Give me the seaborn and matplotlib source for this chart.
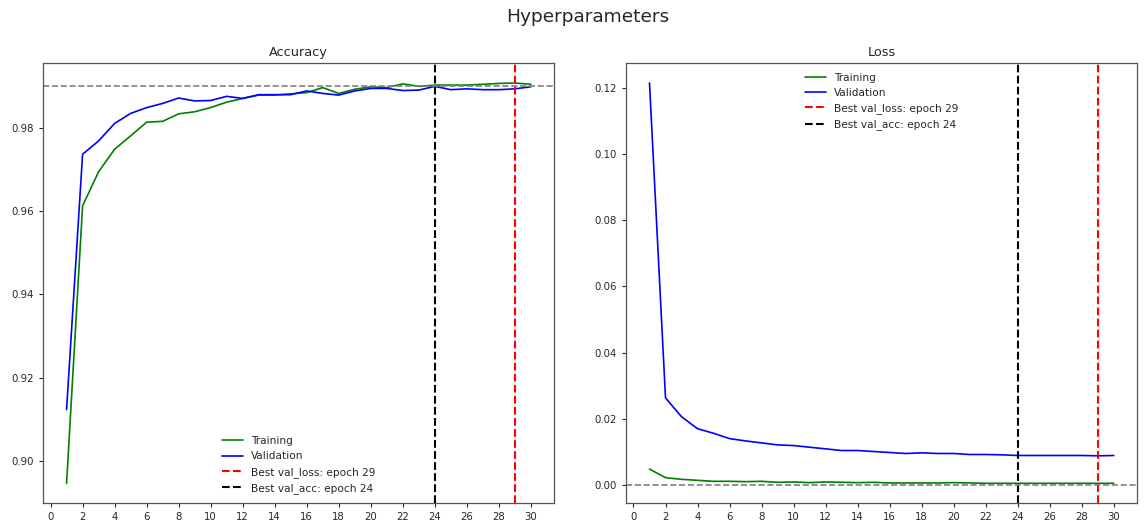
import matplotlib
matplotlib.use("Agg")
import matplotlib.pyplot as plt
import seaborn as sns
import pandas as pd

epochs = [1, 2, 3, 4, 5, 6, 7, 8, 9, 10, 11, 12, 13, 14, 15,
          16, 17, 18, 19, 20, 21, 22, 23, 24, 25, 26, 27, 28, 29, 30]

train_acc = [0.8946, 0.9612, 0.9694, 0.9748, 0.9780, 0.9813, 0.9815, 0.9833, 0.9838, 0.9848,
             0.9861, 0.9870, 0.9878, 0.9878, 0.9881, 0.9884, 0.9896, 0.9882, 0.9892, 0.9898,
             0.9896, 0.9905, 0.9899, 0.9902, 0.9902, 0.9902, 0.9904, 0.9906, 0.9907, 0.9904]
val_acc = [0.9123, 0.9736, 0.9768, 0.9810, 0.9834, 0.9848, 0.9858, 0.9871, 0.9864, 0.9865,
           0.9875, 0.9870, 0.9879, 0.9879, 0.9879, 0.9888, 0.9882, 0.9878, 0.9888, 0.9894,
           0.9894, 0.9889, 0.9890, 0.9899, 0.9891, 0.9893, 0.9891, 0.9891, 0.9893, 0.9898]

train_loss = [0.0048, 0.0022, 0.0017, 0.0014, 0.0011, 0.0011, 0.0010, 0.0011, 0.0008, 0.0009,
              0.0007, 0.0009, 0.0008, 0.0007, 0.0008, 0.0006, 0.0006, 0.0006, 0.0006, 0.0007,
              0.0006, 0.0005, 0.0005, 0.0005, 0.0005, 0.0005, 0.0005, 0.0005, 0.0005, 0.0005]
val_loss = [0.1214, 0.0263, 0.0206, 0.0170, 0.0156, 0.0140, 0.0133, 0.0127, 0.0121, 0.0119,
            0.0114, 0.0109, 0.0104, 0.0104, 0.0101, 0.0098, 0.0095, 0.0097, 0.0095, 0.0095,
            0.0092, 0.0092, 0.0091, 0.0089, 0.0089, 0.0089, 0.0089, 0.0089, 0.0088, 0.0089]

best_loss_epoch = 29
best_acc_epoch = 24
acc_ref = 0.99
loss_ref = 0.0
xticks = [0, 2, 4, 6, 8, 10, 12, 14, 16, 18, 20, 22, 24, 26, 28, 30]

sns.set_style("ticks")
plt.rcParams['font.family'] = ['DejaVu Sans']

df = pd.DataFrame({"epoch": epochs, "train_acc": train_acc, "val_acc": val_acc,
                   "train_loss": train_loss, "val_loss": val_loss})

fig, axes = plt.subplots(1, 2, figsize=(11.44, 5.22), dpi=100)
fig.subplots_adjust(left=0.0379, right=0.9939, bottom=0.0358, top=0.8793, wspace=0.1413)

lw = 1.2
for ax, (tcol, vcol, title, ref, loc) in zip(
        axes, [("train_acc", "val_acc", "Accuracy", acc_ref, "lower center"),
               ("train_loss", "val_loss", "Loss", loss_ref, "upper center")]):
    sns.lineplot(data=df, x="epoch", y=tcol, ax=ax, color="green", lw=lw, label="Training")
    sns.lineplot(data=df, x="epoch", y=vcol, ax=ax, color="blue", lw=lw, label="Validation")
    ax.axvline(best_loss_epoch, color="red", ls="--", lw=lw * 1.25,
               label=f"Best val_loss: epoch {best_loss_epoch}")
    ax.axvline(best_acc_epoch, color="black", ls="--", lw=lw * 1.25,
               label=f"Best val_acc: epoch {best_acc_epoch}")
    ax.axhline(ref, color="gray", ls="--", lw=lw)
    ax.set_xticks(xticks)
    ax.set_xlabel("")
    ax.set_ylabel("")
    ax.set_title(title, fontsize=9.3, pad=5)
    ax.tick_params(labelsize=7.3, length=3, width=0.8)
    for s in ax.spines.values():
        s.set_color("#555555")
        s.set_linewidth(0.9)
    ax.legend(loc=loc, frameon=False, fontsize=7.6)

fig.suptitle("Hyperparameters", fontsize=13.3, x=0.514, y=0.985)
fig.savefig("out.png", dpi=100)
